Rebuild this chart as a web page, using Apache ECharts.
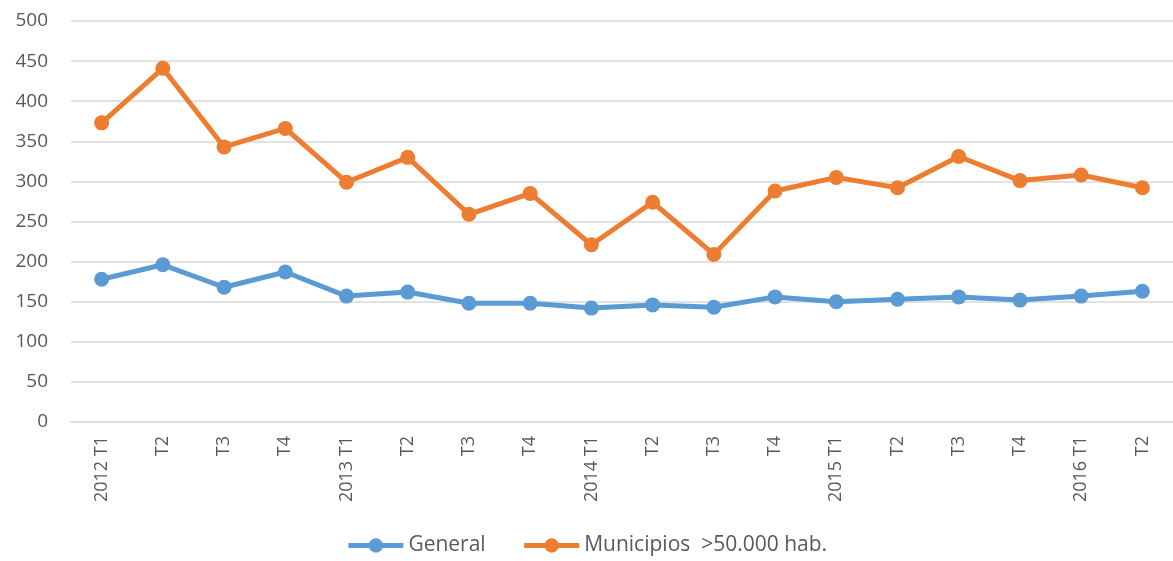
<!DOCTYPE html>
<html>
<head>
<meta charset="utf-8">
<script src="https://cdn.jsdelivr.net/npm/echarts@6/dist/echarts.min.js"></script>
<style>
  html, body { margin: 0; padding: 0; background: #fff; }
  #chart { width: 1173px; height: 561px; }
</style>
</head>
<body>
<div id="chart"></div>
<script>
var categories = ['2012 T1', 'T2', 'T3', 'T4', '2013 T1', 'T2', 'T3', 'T4', '2014 T1', 'T2', 'T3', 'T4', '2015 T1', 'T2', 'T3', 'T4', '2016 T1', 'T2'];
var general = [178, 196, 168, 187, 157, 162, 148, 148, 142, 146, 143, 156, 150, 153, 156, 152, 157, 163];
var municipios = [373, 441, 343, 366, 299, 330, 259, 285, 221, 274, 209, 288, 305, 292, 331, 301, 308, 292];

var chart = echarts.init(document.getElementById('chart'));
var font = 'Open Sans';

var option = {
    animation: false,
    backgroundColor: '#fff',
    textStyle: { fontFamily: font },
    legend: {
        bottom: 0,
        left: 'center',
        itemWidth: 55,
        itemHeight: 18,
        itemGap: 36,
        lineStyle: { width: 5 },
        textStyle: { fontFamily: font, fontSize: 21, color: '#595959' },
        data: ['General', 'Municipios  >50.000 hab.']
    },
    grid: {
        left: 71,
        right: -11,
        top: 21,
        bottom: 139
    },
    xAxis: {
        type: 'category',
        data: categories,
        axisLine: { show: true, lineStyle: { color: '#d9d9d9', width: 1.5 } },
        axisTick: { show: false },
        axisLabel: {
            rotate: 90,
            margin: 14,
            fontSize: 18,
            color: '#595959',
            fontFamily: font
        }
    },
    yAxis: {
        type: 'value',
        min: 0,
        max: 500,
        interval: 50,
        axisLine: { show: false },
        axisTick: { show: false },
        splitLine: { lineStyle: { color: '#d9d9d9', width: 1.5 } },
        axisLabel: {
            margin: 23,
            fontSize: 19,
            color: '#595959',
            fontFamily: font
        }
    },
    series: [
        {
            name: 'General',
            type: 'line',
            data: general,
            symbol: 'circle',
            symbolSize: 15,
            lineStyle: { width: 5, color: '#5b9bd5' },
            itemStyle: { color: '#5b9bd5' }
        },
        {
            name: 'Municipios  >50.000 hab.',
            type: 'line',
            data: municipios,
            symbol: 'circle',
            symbolSize: 15,
            lineStyle: { width: 5, color: '#ed7d31' },
            itemStyle: { color: '#ed7d31' }
        }
    ]
};
chart.setOption(option);
</script>
</body>
</html>
